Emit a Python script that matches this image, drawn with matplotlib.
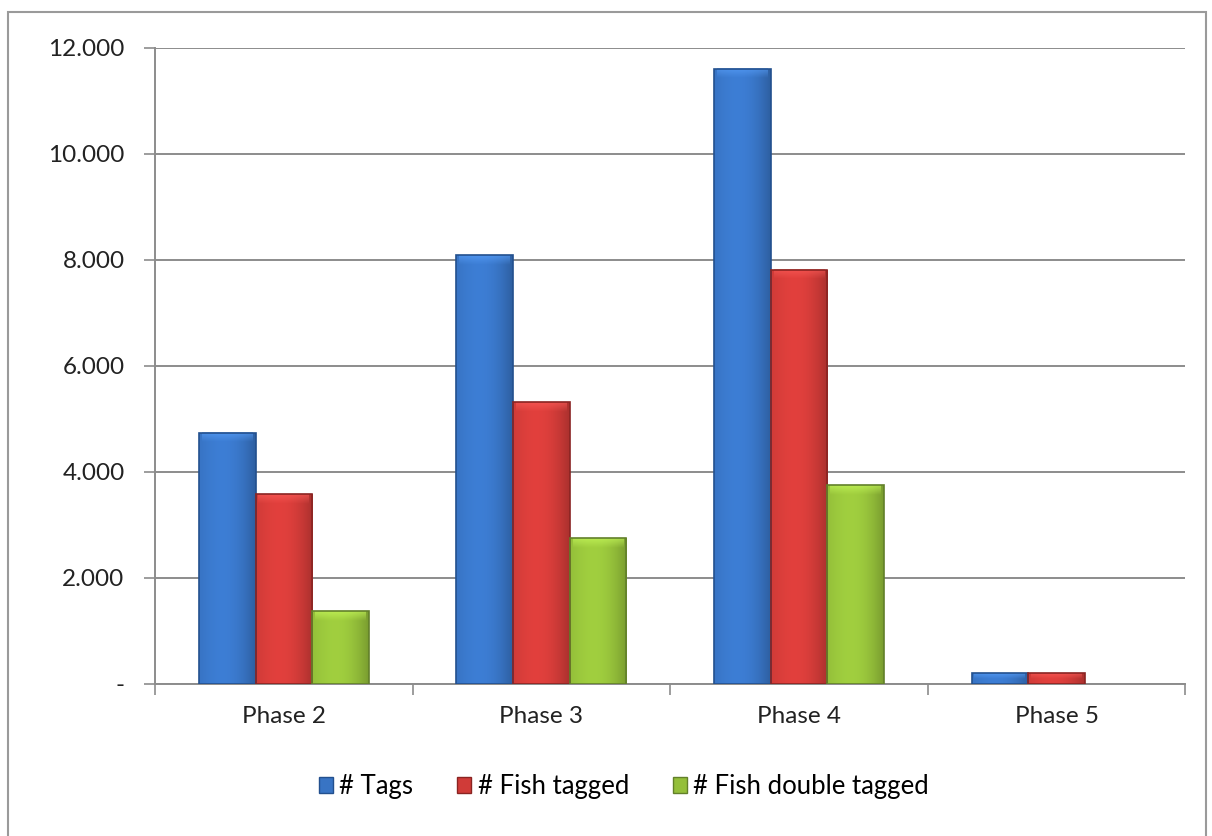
import numpy as np
import matplotlib
matplotlib.use("Agg")
import matplotlib.pyplot as plt
from matplotlib.ticker import FuncFormatter, FixedLocator
from matplotlib.patches import Rectangle
from matplotlib.colors import to_rgb

plt.rcParams['font.family'] = ['Lato', 'DejaVu Sans']

phases = ['Phase 2', 'Phase 3', 'Phase 4', 'Phase 5']
tags = [4740, 8080, 11600, 200]
fish_tagged = [3580, 5310, 7810, 200]
fish_double = [1370, 2750, 3750, 0]

series = [
    ('# Tags', tags, '#3874c4', '#23508e'),
    ('# Fish tagged', fish_tagged, '#d03b38', '#8a2422'),
    ('# Fish double tagged', fish_double, '#94bf3a', '#62802a'),
]


def shaded_bar(ax, x, w, h, color, edge):
    # horizontal shading so the bars look a bit rounded
    if h <= 0:
        return
    base = np.array(to_rgb(color))
    prof = np.linspace(0, 1, 64)
    shade = 1.0 + 0.10 * np.sin(prof * np.pi) - 0.18 * prof ** 3
    img = np.clip(base[None, :] * shade[:, None], 0, 1)[None, :, :]
    im = ax.imshow(img, extent=(x, x + w, 0, h), aspect='auto',
                   interpolation='bilinear', zorder=3)
    rect = Rectangle((x, 0), w, h, facecolor='none', edgecolor=edge,
                     linewidth=1.2, zorder=4)
    ax.add_patch(rect)
    im.set_clip_path(rect)
    # soft bevel along the top, fading downwards
    cap = min(h * 0.5, 180)
    top = np.clip(base * 1.2 + 0.1, 0, 1)
    fade = np.zeros((32, 1, 4))
    fade[:, 0, :3] = top
    fade[:, 0, 3] = np.linspace(0.6, 0.0, 32)
    ax.imshow(fade, extent=(x + w * 0.05, x + w * 0.95, h - cap, h), aspect='auto',
              interpolation='bilinear', zorder=3.5)


fig = plt.figure(figsize=(12.12, 8.36), dpi=100)
ax = fig.add_axes([0.128, 0.182, 0.850, 0.761])

x = np.arange(len(phases))
width = 0.22
for i, (label, vals, color, edge) in enumerate(series):
    offs = x + (i - 1) * width - width / 2
    for xo, v in zip(offs, vals):
        shaded_bar(ax, xo, width, v, color, edge)
    ax.bar([0], [0], color=color, edgecolor=edge, label=label)

ax.set_xlim(-0.5, len(phases) - 0.5)
ax.set_ylim(0, 12000)
ax.set_yticks(np.arange(0, 12001, 2000))
ax.yaxis.set_major_formatter(FuncFormatter(
    lambda v, p: '-' if v == 0 else f'{int(v):,}'.replace(',', '.')))
ax.grid(axis='y', color='#8c8c8c', linewidth=1.4, zorder=0)
ax.set_axisbelow(True)

ax.set_xticks(x)
ax.set_xticklabels(phases)
ax.xaxis.set_minor_locator(FixedLocator(np.arange(-0.5, len(phases), 1.0)))
ax.tick_params(axis='x', which='major', length=0, pad=16, labelsize=17.5, labelcolor='#222222')
ax.tick_params(axis='x', which='minor', length=8, color='#8c8c8c', width=1.2)
ax.tick_params(axis='y', length=8, color='#8c8c8c', width=1.2, pad=14,
               labelsize=17.5, labelcolor='#222222')

for s in ['top', 'right']:
    ax.spines[s].set_visible(False)
for s in ['left', 'bottom']:
    ax.spines[s].set_color('#8c8c8c')
    ax.spines[s].set_linewidth(1.4)

ax.legend(loc='upper center', bbox_to_anchor=(0.455, -0.105), ncol=3, frameon=False,
          fontsize=18.5, handlelength=0.55, handleheight=0.6, handletextpad=0.25,
          columnspacing=1.7)

# frame around the whole chart
fig.patches.append(Rectangle((0.007, -0.01), 0.988, 0.996, transform=fig.transFigure,
                             fill=False, edgecolor='#9a9a9a', linewidth=1.5))

fig.savefig('out.png', dpi=100)
